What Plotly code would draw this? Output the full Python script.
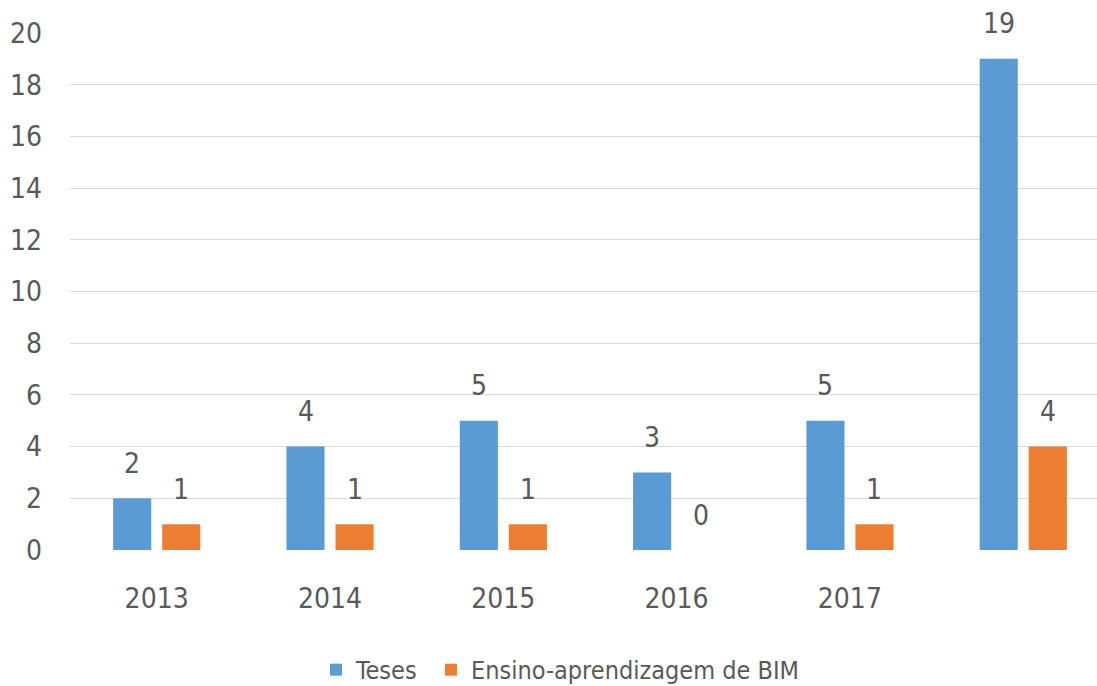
import plotly.graph_objects as go

categories = ["2013", "2014", "2015", "2016", "2017", ""]
teses = [2, 4, 5, 3, 5, 19]
ensino = [1, 1, 1, 0, 1, 4]
series_names = ["Teses", "Ensino-aprendizagem de BIM"]
colors = ["#5B9BD5", "#ED7D31"]

FONT = "Liberation Sans Narrow, DejaVu Sans Condensed, Arial Narrow, sans-serif"
TXT = "#595959"

x = list(range(len(categories)))
bar_w = 0.22
offsets = [-0.251, 0.032]
legend_ids = ["legend", "legend2"]
legend_left_px = [316, 431]

fig = go.Figure()
annotations = []
for name, vals, col, off, lg in zip(series_names, [teses, ensino], colors, offsets, legend_ids):
    fig.add_trace(go.Bar(
        x=x, y=vals, name=name, width=bar_w, offset=off,
        marker=dict(color=col, line=dict(width=0)),
        cliponaxis=False, legend=lg,
    ))
    for xi, v in zip(x, vals):
        annotations.append(dict(
            x=xi + off + bar_w / 2, y=v, xref="x", yref="y",
            text=str(v), showarrow=False, yshift=35, yanchor="middle",
            font=dict(family=FONT, size=28, color=TXT),
        ))

PLOT_L, PLOT_W = 70, 1027
legend_style = dict(orientation="h", xanchor="left", y=-0.232, yanchor="middle",
                    font=dict(family=FONT, size=25, color=TXT), itemwidth=30,
                    bgcolor="rgba(0,0,0,0)")

fig.update_layout(
    width=1097, height=686,
    margin=dict(l=70, r=0, t=33, b=136, autoexpand=False),
    paper_bgcolor="white", plot_bgcolor="white",
    barmode="overlay",
    showlegend=True,
    legend=dict(x=(legend_left_px[0] - PLOT_L) / PLOT_W, **legend_style),
    legend2=dict(x=(legend_left_px[1] - PLOT_L) / PLOT_W, **legend_style),
    annotations=annotations,
    font=dict(family=FONT, color=TXT),
)
fig.update_xaxes(
    tickmode="array", tickvals=x, ticktext=categories,
    range=[-0.5, 5.426], showgrid=False, zeroline=False, automargin=False,
    showline=False, ticks="", ticklabelstandoff=29,
    tickfont=dict(family=FONT, size=28, color=TXT),
)
fig.update_yaxes(
    range=[0, 20], dtick=2, tick0=0, showgrid=True, gridcolor="#D9D9D9", gridwidth=1.3,
    zeroline=False, showline=False, ticks="", ticklabelstandoff=27, automargin=False,
    tickfont=dict(family=FONT, size=28, color=TXT),
)
fig.write_html(
    "out.html",
    config={"displayModeBar": False},
    post_script="document.body.style.margin='0';document.body.style.overflow='hidden';",
)
